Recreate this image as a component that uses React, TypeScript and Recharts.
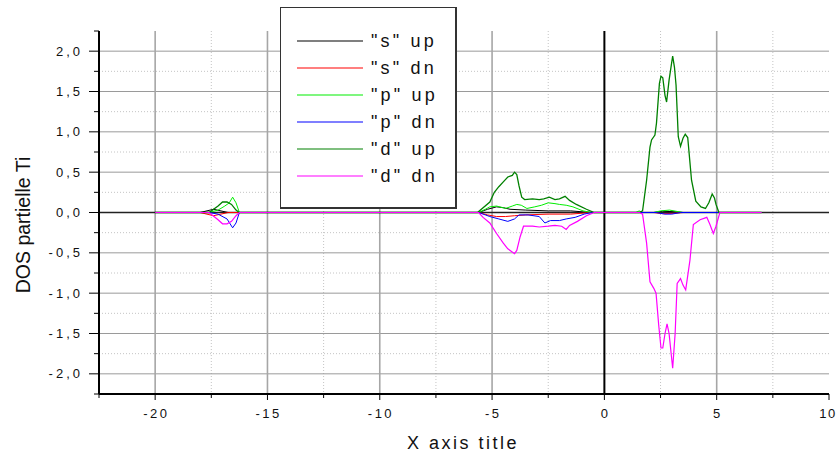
import React from 'react';
import { LineChart, Line, XAxis, YAxis, CartesianGrid, Legend } from 'recharts';

// Energy axis (eV) and DOS axis ranges
const energyDomain: [number, number] = [-22.5, 10];
const dosDomain: [number, number] = [-2.25, 2.25];

const xTicks = [-22.5, -20, -17.5, -15, -12.5, -10, -7.5, -5, -2.5, 0, 2.5, 5, 7.5, 10];
const yTicks = [-2.25, -2, -1.75, -1.5, -1.25, -1, -0.75, -0.5, -0.25, 0, 0.25, 0.5, 0.75, 1, 1.25, 1.5, 1.75, 2, 2.25];

const xMajorGrid = [-20, -15, -10, -5, 5];
const xMinorGrid = [-17.5, -12.5, -7.5, -2.5, 2.5, 7.5];
const yMajorGrid = [-2, -1.5, -1, -0.5, 0.5, 1, 1.5, 2];
const yMinorGrid = [-1.75, -1.25, -0.75, -0.25, 0.25, 0.75, 1.25, 1.75];

const seriesNames = ['"s" up', '"s" dn', '"p" up', '"p" dn', '"d" up', '"d" dn'];

// Partial DOS of Ti, [energy, states] pairs per orbital and spin
const sUp: [number, number][] = [
  [-20, 0], [-18.0, 0], [-17.4, 0.04], [-16.75, 0], [-5.6, 0], [-5.2, 0.04], [-4.8, 0.07],
  [-4.5, 0.06], [-4.2, 0.04], [-3.5, 0.03], [-2.5, 0.02], [-1.5, 0.02], [-0.6, 0],
  [2.2, 0], [2.6, 0.015], [3.1, 0.01], [3.5, 0], [7.0, 0],
];
const sDn: [number, number][] = [
  [-20, 0], [-18.0, 0], [-17.4, -0.04], [-16.75, 0], [-5.6, 0], [-5.2, -0.03], [-4.8, -0.05],
  [-4.4, -0.05], [-4.0, -0.04], [-3.5, -0.03], [-2.5, -0.02], [-1.5, -0.02], [-0.6, 0],
  [2.2, 0], [2.6, -0.015], [3.1, -0.01], [3.5, 0], [7.0, 0],
];
const pUp: [number, number][] = [
  [-20, 0], [-17.6, 0], [-17.2, 0.03], [-16.9, 0.08], [-16.7, 0.12], [-16.55, 0.19], [-16.4, 0.12],
  [-16.25, 0], [-5.6, 0], [-5.3, 0.04], [-5.1, 0.07], [-4.8, 0.08], [-4.4, 0.05], [-4.1, 0.08],
  [-3.9, 0.1], [-3.7, 0.09], [-3.45, 0.05], [-3.1, 0.07], [-2.8, 0.09], [-2.5, 0.12], [-2.2, 0.11],
  [-2.0, 0.1], [-1.7, 0.09], [-1.4, 0.07], [-0.95, 0.02], [-0.55, 0], [1.4, 0], [1.55, 0.02],
  [1.7, 0], [2.2, 0], [2.5, 0.02], [2.9, 0.03], [3.3, 0.01], [3.5, 0], [7.0, 0],
];
const pDn: [number, number][] = [
  [-20, 0], [-17.6, 0], [-17.2, -0.02], [-16.8, -0.08], [-16.55, -0.19], [-16.4, -0.13], [-16.25, 0],
  [-5.6, 0], [-5.3, -0.03], [-5.1, -0.05], [-4.7, -0.08], [-4.3, -0.11], [-4.0, -0.08], [-3.8, -0.03],
  [-3.4, -0.03], [-2.9, -0.05], [-2.65, -0.13], [-2.4, -0.1], [-2.0, -0.1], [-1.7, -0.08],
  [-1.3, -0.06], [-0.9, -0.02], [-0.55, 0], [2.3, 0], [2.7, -0.02], [3.0, -0.02], [3.4, 0], [7.0, 0],
];
const dUp: [number, number][] = [
  [-20, 0], [-17.6, 0], [-17.2, 0.08], [-17.0, 0.13], [-16.8, 0.13], [-16.6, 0.1], [-16.4, 0.03],
  [-16.25, 0], [-5.65, 0], [-5.4, 0.06], [-5.1, 0.13], [-4.9, 0.25], [-4.7, 0.32], [-4.5, 0.38],
  [-4.3, 0.44], [-4.1, 0.46], [-4.0, 0.5], [-3.9, 0.47], [-3.8, 0.33], [-3.68, 0.19], [-3.55, 0.16],
  [-3.2, 0.17], [-2.9, 0.16], [-2.7, 0.17], [-2.45, 0.19], [-2.2, 0.16], [-2.0, 0.17], [-1.75, 0.2],
  [-1.55, 0.15], [-1.25, 0.1], [-0.8, 0.04], [-0.45, 0], [1.55, 0], [1.7, 0.02], [1.88, 0.4],
  [2.03, 0.81], [2.1, 0.9], [2.25, 0.96], [2.32, 1.11], [2.45, 1.6], [2.52, 1.69], [2.6, 1.67],
  [2.7, 1.45], [2.77, 1.37], [2.88, 1.64], [3.04, 1.94], [3.12, 1.8], [3.19, 1.58], [3.29, 0.94],
  [3.39, 0.82], [3.5, 0.92], [3.6, 0.97], [3.71, 0.93], [3.88, 0.4], [4.07, 0.14], [4.3, 0.07],
  [4.5, 0.05], [4.65, 0.12], [4.8, 0.23], [4.9, 0.18], [4.97, 0.1], [5.1, 0], [7.0, 0],
];
const dDn: [number, number][] = [
  [-20, 0], [-17.6, 0], [-17.2, -0.09], [-17.0, -0.14], [-16.8, -0.14], [-16.6, -0.11], [-16.4, -0.04],
  [-16.25, 0], [-5.6, 0], [-5.4, -0.06], [-5.1, -0.13], [-4.8, -0.26], [-4.5, -0.38], [-4.3, -0.45],
  [-4.0, -0.51], [-3.9, -0.47], [-3.75, -0.3], [-3.6, -0.17], [-3.2, -0.17], [-2.9, -0.18],
  [-2.5, -0.17], [-2.2, -0.16], [-1.9, -0.17], [-1.7, -0.21], [-1.55, -0.16], [-1.2, -0.11],
  [-0.8, -0.04], [-0.45, 0], [1.55, 0], [1.7, -0.02], [1.88, -0.38], [2.03, -0.86], [2.2, -0.94],
  [2.3, -1.0], [2.42, -1.4], [2.52, -1.68], [2.6, -1.68], [2.7, -1.5], [2.79, -1.38], [2.88, -1.5],
  [3.04, -1.93], [3.15, -1.5], [3.24, -0.88], [3.39, -0.82], [3.5, -0.9], [3.62, -0.96],
  [3.81, -0.59], [3.96, -0.15], [4.26, -0.09], [4.56, -0.06], [4.7, -0.15], [4.85, -0.26],
  [4.97, -0.17], [5.14, 0], [7.0, 0],
];

const toRows = (pts: [number, number][]) => pts.map(([e, v]) => ({ e, v }));

const FONT = '"Liberation Sans", Arial, sans-serif';

const fmtDos = (v: number) => v.toFixed(1).replace('.', ',');

const XTick = (props: any) => {
  const { x, y, payload } = props;
  const v = payload.value as number;
  const major = Math.abs(v % 5) < 1e-6;
  const isLast = v === energyDomain[1];
  return (
    <g>
      <line x1={x} x2={x} y1={y} y2={y + (major ? 6 : 4)} stroke="#000" strokeWidth={1} />
      {major && (
        <text x={isLast ? x - 1 : x + 1.2} y={y + 24} textAnchor="middle" fontFamily={FONT}
          fontSize={13} letterSpacing={isLast ? 1.5 : 2.5} fill="#111">
          {String(v)}
        </text>
      )}
    </g>
  );
};

const YTick = (props: any) => {
  const { x, y, payload } = props;
  const v = payload.value as number;
  const major = Math.abs(v * 2 - Math.round(v * 2)) < 1e-6;
  return (
    <g>
      <line x1={x - (major ? 10 : 5)} x2={x} y1={y} y2={y} stroke="#000" strokeWidth={1} />
      {major && (
        <text x={x - 16} y={y + 4.6} textAnchor="end" fontFamily={FONT} fontSize={13}
          letterSpacing={3} fill="#111">
          {fmtDos(v)}
        </text>
      )}
    </g>
  );
};

const XTitle = (props: any) => {
  const vb = props.viewBox || { x: 99, y: 394, width: 730 };
  return (
    <text x={vb.x + vb.width / 2 - 1} y={vb.y + 55} textAnchor="middle" fontFamily={FONT}
      fontSize={18} letterSpacing={2.5} fill="#111">
      X axis title
    </text>
  );
};

const YTitle = (props: any) => {
  const vb = props.viewBox || { x: 39, y: 31, width: 60, height: 363 };
  const cx = vb.x - 9;
  const cy = vb.y + vb.height / 2 + 12.5;
  return (
    <text transform={`translate(${cx},${cy}) rotate(-90)`} textAnchor="middle" fontFamily={FONT}
      fontSize={19.5} fill="#111">
      DOS partielle Ti
    </text>
  );
};

const LegendBox = (props: any) => {
  const items: any[] = [...(props.payload ?? [])].sort(
    (a, b) => seriesNames.indexOf(a.value) - seriesNames.indexOf(b.value),
  );
  return (
    <div
      style={{
        width: 177,
        height: 202,
        boxSizing: 'border-box',
        border: '1px solid #333',
        borderRightWidth: 2,
        borderBottomWidth: 2,
        background: '#fff',
      }}
    >
      <svg width={174} height={199} style={{ display: 'block' }}>
        {items.map((it, i) => {
          const ly = 33 + i * 27;
          return (
            <g key={i}>
              <line x1={16} x2={82} y1={ly} y2={ly} stroke={it.color} strokeWidth={1.2} />
              <text x={90} y={ly + 6} fontFamily={FONT} fontSize={18} letterSpacing={3.2} fill="#111">
                {it.value}
              </text>
            </g>
          );
        })}
      </svg>
    </div>
  );
};

export default function App() {
  return (
    <div style={{ position: 'absolute', left: 0, top: 0, width: 837, height: 459, background: '#fff' }}>
      <LineChart width={837} height={459} margin={{ top: 31, right: 8, bottom: 25, left: 39 }}>
        <CartesianGrid stroke="#c4c4c4" strokeDasharray="1 2" horizontalValues={yMinorGrid}
          verticalValues={xMinorGrid} />
        <CartesianGrid stroke="#9a9a9a" strokeWidth={1} horizontalValues={yMajorGrid} vertical={false} />
        <CartesianGrid stroke="#a6a6a6" strokeWidth={1.6} verticalValues={xMajorGrid} horizontal={false} />
        <CartesianGrid stroke="#000" strokeWidth={2} verticalValues={[0]} horizontal={false} />
        <CartesianGrid stroke="#222" strokeWidth={1.5} horizontalValues={[0]} vertical={false} />
        <XAxis
          type="number"
          dataKey="e"
          domain={energyDomain}
          ticks={xTicks}
          interval={0}
          allowDataOverflow
          height={40}
          tickSize={0}
          tickMargin={0}
          tickLine={false}
          axisLine={{ stroke: '#000', strokeWidth: 2 }}
          tick={<XTick />}
          label={<XTitle />}
        />
        <YAxis
          type="number"
          dataKey="v"
          domain={dosDomain}
          ticks={yTicks}
          interval={0}
          allowDataOverflow
          width={60}
          tickSize={0}
          tickMargin={0}
          tickLine={false}
          axisLine={{ stroke: '#000', strokeWidth: 2 }}
          tick={<YTick />}
          label={<YTitle />}
        />
        <Legend
          layout="vertical"
          align="center"
          verticalAlign="middle"
          content={<LegendBox />}
          wrapperStyle={{ left: 280, top: 7, width: 177, height: 202 }}
        />
        <Line data={toRows(sUp)} dataKey="v" name={seriesNames[0]} stroke="#000000" strokeWidth={1}
          dot={false} type="linear" isAnimationActive={false} />
        <Line data={toRows(sDn)} dataKey="v" name={seriesNames[1]} stroke="#ff0000" strokeWidth={1}
          dot={false} type="linear" isAnimationActive={false} />
        <Line data={toRows(pUp)} dataKey="v" name={seriesNames[2]} stroke="#00ee00" strokeWidth={1}
          dot={false} type="linear" isAnimationActive={false} />
        <Line data={toRows(pDn)} dataKey="v" name={seriesNames[3]} stroke="#0000ff" strokeWidth={1}
          dot={false} type="linear" isAnimationActive={false} />
        <Line data={toRows(dUp)} dataKey="v" name={seriesNames[4]} stroke="#008000" strokeWidth={1.3}
          dot={false} type="linear" isAnimationActive={false} />
        <Line data={toRows(dDn)} dataKey="v" name={seriesNames[5]} stroke="#ff00ff" strokeWidth={1.2}
          dot={false} type="linear" isAnimationActive={false} />
      </LineChart>
    </div>
  );
}
